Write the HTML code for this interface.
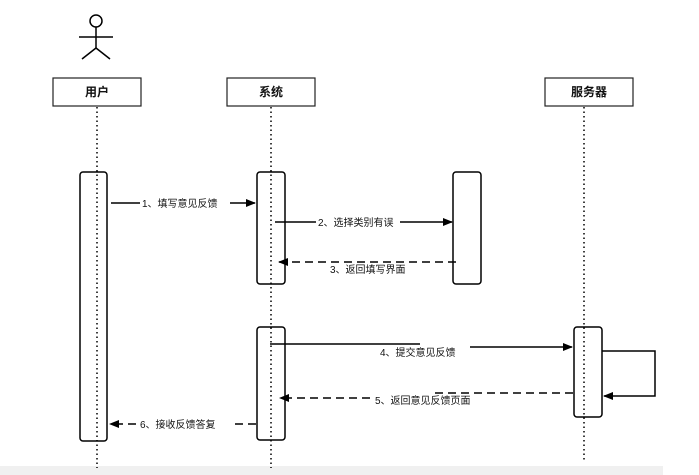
<!DOCTYPE html>
<html><head><meta charset="utf-8"><style>
html,body{margin:0;padding:0;background:#fff;}
svg{display:block;}
text{font-family:"Liberation Sans","Noto Sans CJK SC",sans-serif;font-size:10px;fill:#111;}
.h{font-size:12px;font-weight:bold;}
</style></head><body>
<svg width="699" height="475" viewBox="0 0 699 475" xmlns="http://www.w3.org/2000/svg">
<defs><marker id="a" markerWidth="10" markerHeight="8" refX="9" refY="4" orient="auto" markerUnits="userSpaceOnUse"><path d="M0,0 L10,4 L0,8 Z" fill="#000"/></marker></defs>
<rect x="0" y="466" width="663" height="9" fill="#f0f0f0"/>
<g stroke="#000" stroke-width="1.5" fill="none">
<circle cx="96" cy="21" r="6" fill="#fff"/>
<line x1="96" y1="27" x2="96" y2="48"/>
<line x1="79" y1="37" x2="113" y2="37"/>
<line x1="96" y1="48" x2="82" y2="59"/>
<line x1="96" y1="48" x2="110" y2="59"/>
</g>
<g stroke="#222" stroke-width="1.2" fill="#fff">
<rect x="53" y="78" width="88" height="28"/>
<rect x="227" y="78" width="88" height="28"/>
<rect x="545" y="78" width="88" height="28"/>
</g>
<text class="h" x="97" y="96" text-anchor="middle">用户</text>
<text class="h" x="271" y="96" text-anchor="middle">系统</text>
<text class="h" x="589" y="96" text-anchor="middle">服务器</text>
<g stroke="#000" stroke-width="1.5" fill="#fff">
<rect x="80" y="172" width="27" height="269" rx="3"/>
<rect x="257" y="172" width="28" height="112" rx="3"/>
<rect x="257" y="327" width="28" height="113" rx="3"/>
<rect x="453" y="172" width="28" height="112" rx="3"/>
<rect x="574" y="327" width="28" height="90" rx="3"/>
</g>
<g stroke="#000" stroke-width="1.5" stroke-dasharray="1.5,3">
<line x1="97" y1="107" x2="97" y2="468"/>
<line x1="271" y1="107" x2="271" y2="468"/>
<line x1="584" y1="107" x2="584" y2="460"/>
</g>
<g stroke="#000" stroke-width="1.5" fill="none">
<line x1="111" y1="203" x2="140" y2="203"/>
<line x1="230" y1="203" x2="255" y2="203" marker-end="url(#a)"/>
<line x1="275" y1="222" x2="316" y2="222"/>
<line x1="400" y1="222" x2="452" y2="222" marker-end="url(#a)"/>
<line x1="456" y1="262" x2="279" y2="262" stroke-dasharray="8,5" marker-end="url(#a)"/>
<line x1="270" y1="344" x2="420" y2="344"/>
<line x1="470" y1="347" x2="572" y2="347" marker-end="url(#a)"/>
<polyline points="602,351 655,351 655,396 604,396" marker-end="url(#a)"/>
<line x1="573" y1="393" x2="430" y2="393" stroke-dasharray="8,5"/>
<line x1="370" y1="398" x2="280" y2="398" stroke-dasharray="8,5" marker-end="url(#a)"/>
<line x1="256" y1="424" x2="232" y2="424" stroke-dasharray="8,5"/>
<line x1="136" y1="424" x2="110" y2="424" stroke-dasharray="8,5" marker-end="url(#a)"/>
</g>
<text x="142" y="207">1、填写意见反馈</text>
<text x="318" y="226">2、选择类别有误</text>
<text x="330" y="273">3、返回填写界面</text>
<text x="380" y="356">4、提交意见反馈</text>
<text x="375" y="404">5、返回意见反馈页面</text>
<text x="140" y="428">6、接收反馈答复</text>
</svg>
</body></html>
